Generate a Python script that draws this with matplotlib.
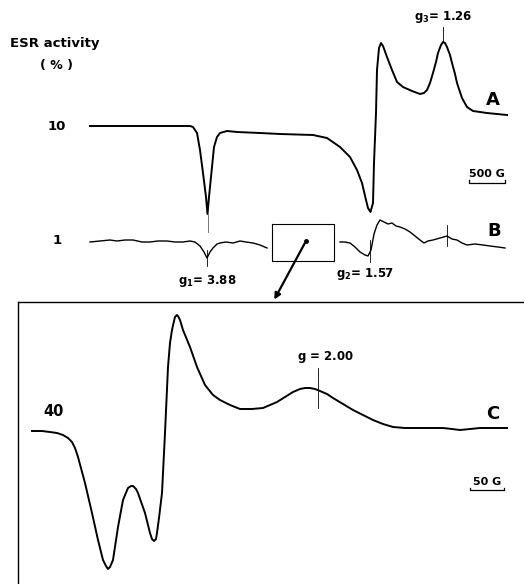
import matplotlib.pyplot as plt

# traces (x = field position, y = signal position, in figure pixels)
trace_a_x = [90, 150, 190, 193, 197, 200, 203, 206, 207.5, 209, 212, 214, 217, 220, 227, 237,
             260, 280, 313, 327, 340, 350, 357, 362, 366, 368, 370.5, 373, 374, 376, 377, 379,
             381, 383, 387, 392, 397, 403, 412, 420, 424, 427, 430, 433, 436, 438, 441, 443,
             445, 447, 450, 452, 455, 457, 460, 462, 467, 473, 480, 487, 497, 507]
trace_a_y = [126, 126, 126, 127, 133, 150, 173, 197, 214, 197, 167, 147, 137, 133, 131, 132,
             133, 134, 135, 138, 147, 157, 170, 183, 200, 208, 212, 203, 163, 113, 70, 48,
             43, 46, 57, 70, 82, 87, 91, 94, 93, 90, 83, 73, 62, 53, 45, 42,
             43, 47, 55, 63, 74, 83, 92, 98, 107, 111, 112, 113, 114, 115]

trace_b1_x = [90, 100, 110, 117, 125, 133, 142, 150, 158, 167, 175, 183, 190, 195, 200, 204,
              207, 210, 213, 217, 220, 226, 233, 240, 246, 253, 260, 267]
trace_b1_y = [242, 241, 240, 241, 240, 240, 242, 242, 241, 241, 242, 242, 241, 242, 246, 252,
              258, 252, 248, 244, 243, 242, 243, 241, 242, 243, 245, 248]
trace_b2_x = [340, 345, 350, 355, 360, 365, 368, 371, 374, 377, 380, 384, 388, 392, 396, 400,
              405, 410, 415, 420, 424, 428, 433, 440, 447, 452, 457, 462, 467, 475, 483, 490,
              498, 505]
trace_b2_y = [242, 242, 243, 247, 252, 255, 256, 250, 234, 225, 220, 222, 224, 223, 226, 227,
              229, 232, 236, 240, 243, 241, 240, 238, 236, 239, 240, 243, 245, 244, 245, 246,
              247, 248]

trace_c_x = [32, 42, 50, 57, 63, 68, 72, 75, 78, 85, 92, 98, 103, 106, 108, 110, 113, 118,
             123, 128, 131, 133, 136, 138, 145, 150, 152, 154, 156, 157, 159, 162, 165, 168,
             170, 172, 174, 175, 177, 178, 180, 183, 190, 197, 205, 213, 220, 230, 240, 252,
             263, 270, 277, 285, 293, 300, 305, 310, 315, 320, 327, 333, 343, 353, 363, 373,
             383, 393, 405, 417, 430, 443, 452, 460, 470, 480, 493, 507]
trace_c_y = [431, 431, 432, 433, 435, 438, 442, 448, 457, 483, 513, 540, 560, 566, 569, 567,
             560, 527, 500, 488, 486, 486, 489, 493, 513, 533, 539, 541, 539, 533, 518, 493,
             433, 367, 343, 330, 321, 317, 315, 316, 320, 330, 347, 367, 385, 395, 400, 405,
             409, 409, 408, 405, 402, 397, 392, 389, 388, 388, 389, 391, 394, 398, 404, 410,
             415, 420, 424, 427, 428, 428, 428, 428, 429, 430, 429, 428, 428, 428]

level_labels = ['10', '1', '40']
trace_names = ['A', 'B', 'C']
g_labels = ['$\\mathbf{g_1}$= 3.88', '$\\mathbf{g_2}$= 1.57', '$\\mathbf{g_3}$= 1.26', '$\\mathbf{g}$ = 2.00']

fig = plt.figure(figsize=(5.24, 5.84), dpi=100)
ax = fig.add_axes([0, 0, 1, 1])
ax.set_xlim(0, 524)
ax.set_ylim(584, 0)
ax.axis('off')

lw = 1.4
ax.plot(trace_a_x, trace_a_y, color='black', lw=lw, solid_joinstyle='round')
ax.plot(trace_b1_x, trace_b1_y, color='black', lw=1.0, solid_joinstyle='round')
ax.plot(trace_b2_x, trace_b2_y, color='black', lw=1.0, solid_joinstyle='round')
ax.plot(trace_c_x, trace_c_y, color='black', lw=lw, solid_joinstyle='round')

# g markers
ax.plot([207.5, 207.5], [214, 232], color='#777777', lw=0.7)
ax.plot([207, 207], [250, 266], color='black', lw=0.6)
ax.plot([370, 370], [240, 262], color='black', lw=0.6)
ax.plot([447, 447], [225, 246], color='black', lw=0.6)
ax.plot([443, 443], [27, 42], color='black', lw=0.6)
ax.plot([318, 318], [368, 408], color='black', lw=0.6)

bold = dict(fontweight='bold', color='black', family='DejaVu Sans')
ax.text(10, 43, 'ESR activity', fontsize=9.5, ha='left', va='center', **bold)
ax.text(57, 65, '( % )', fontsize=9, ha='center', va='center', **bold)
ax.text(57, 126, level_labels[0], fontsize=9.5, ha='center', va='center', **bold)
ax.text(57, 241, level_labels[1], fontsize=9.5, ha='center', va='center', **bold)
ax.text(54, 412, level_labels[2], fontsize=10.5, ha='center', va='center', **bold)

for name, (x, y) in zip(trace_names, [(493, 100), (494, 231), (493, 414)]):
    ax.text(x, y, name, fontsize=13, ha='center', va='center', fontweight='bold',
            family='Liberation Sans Narrow' if name != 'C' else 'DejaVu Sans', color='black')

ax.text(207, 281, g_labels[0], fontsize=8.5, ha='center', va='center', **bold)
ax.text(365, 274, g_labels[1], fontsize=8.5, ha='center', va='center', **bold)
ax.text(443, 17, g_labels[2], fontsize=8.5, ha='center', va='center', **bold)
ax.text(325, 357, g_labels[3], fontsize=8.5, ha='center', va='center', **bold)

# scale bars
ax.text(487, 174, '500 G', fontsize=8, ha='center', va='center', **bold)
ax.plot([469, 469, 505, 505], [180, 183, 183, 180], color='black', lw=0.9)
ax.text(487, 482, '50 G', fontsize=8, ha='center', va='center', **bold)
ax.plot([470, 470, 504, 504], [488, 490, 490, 488], color='black', lw=0.9)

# zoom box and arrow
ax.plot([272, 334, 334, 272, 272], [224, 224, 261, 261, 224], color='black', lw=0.8)
ax.plot(306, 241, 'o', color='black', ms=2.5)
ax.annotate('', xy=(273, 302), xytext=(306, 241),
            arrowprops=dict(arrowstyle='-|>', color='black', lw=1.6, mutation_scale=9))

# panel C frame
ax.plot([18, 524], [302, 302], color='black', lw=1.0)
ax.plot([18, 18], [302, 584], color='black', lw=1.0)

fig.savefig('out.png', dpi=100, facecolor='white')
